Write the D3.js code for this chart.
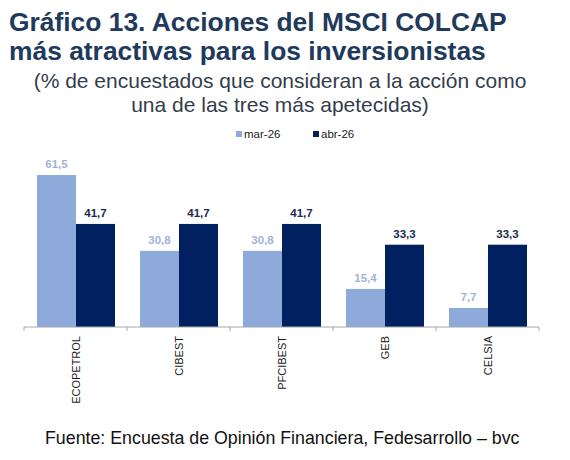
<!DOCTYPE html>
<html>
<head>
<meta charset="utf-8">
<script src="https://cdn.jsdelivr.net/npm/d3@7"></script>
<style>
  body { margin: 0; background: #fff; }
  svg { display: block; font-family: "Liberation Sans", Arial, sans-serif; }
</style>
</head>
<body>
<svg id="chart"></svg>
<script>
const width = 570
const height = 460

// data
const categories = ['ECOPETROL', 'CIBEST', 'PFCIBEST', 'GEB', 'CELSIA']
const seriesNames = ['mar-26', 'abr-26']
const mar26 = [61.5, 30.8, 30.8, 15.4, 7.7]
const abr26 = [41.7, 41.7, 41.7, 33.3, 33.3]

const colors = ['#8eaadb', '#002060']
const labelColors = ['#9fb3da', '#1b2a4e']

const svg = d3.select('#chart').attr('width', width).attr('height', height)

// titles
const title = svg.append('g').attr('fill', '#213a5c').attr('font-weight', 'bold').attr('font-size', 26.4)
title.append('text').attr('x', 9).attr('y', 31).text('Gráfico 13. Acciones del MSCI COLCAP')
title.append('text').attr('x', 9).attr('y', 60).text('más atractivas para los inversionistas')

const sub = svg.append('g').attr('fill', '#333d4c').attr('font-size', 21).attr('text-anchor', 'middle')
sub.append('text').attr('x', 280).attr('y', 88).text('(% de encuestados que consideran a la acción como')
sub.append('text').attr('x', 280).attr('y', 112).text('una de las tres más apetecidas)')

// scales
const x = d3.scaleBand().domain(categories).range([24, 539])
const xSub = d3.scaleBand().domain(seriesNames).range([13, 91])
const y = d3.scaleLinear().domain([0, 70]).range([327, 154])

const rows = categories.map((c, i) => ({ cat: c, vals: [mar26[i], abr26[i]] }))

const groups = svg.append('g').selectAll('g')
  .data(rows)
  .enter().append('g')
  .attr('transform', d => `translate(${x(d.cat)},0)`)

groups.selectAll('rect')
  .data(d => d.vals.map((v, j) => ({ v, j })))
  .enter().append('rect')
  .attr('x', d => xSub(seriesNames[d.j]))
  .attr('width', xSub.bandwidth())
  .attr('y', d => y(d.v))
  .attr('height', d => y(0) - y(d.v))
  .attr('fill', d => colors[d.j])

groups.selectAll('text')
  .data(d => d.vals.map((v, j) => ({ v, j })))
  .enter().append('text')
  .attr('x', d => xSub(seriesNames[d.j]) + xSub.bandwidth() / 2)
  .attr('y', d => y(d.v) - 7)
  .attr('text-anchor', 'middle')
  .attr('font-size', 11.5)
  .attr('font-weight', 'bold')
  .attr('fill', d => labelColors[d.j])
  .text(d => d3.format('.1f')(d.v).replace('.', ','))

// x axis
const axis = svg.append('g').attr('transform', `translate(0,${y(0)})`)
axis.append('line').attr('x1', 24).attr('x2', 539).attr('stroke', '#a6a6a6')
axis.selectAll('.tk')
  .data(categories.map(c => x(c)).concat([539]))
  .enter().append('line')
  .attr('x1', d => d).attr('x2', d => d)
  .attr('y1', 0).attr('y2', 4)
  .attr('stroke', '#a6a6a6')

axis.selectAll('.cat')
  .data(categories)
  .enter().append('text')
  .attr('transform', d => `translate(${x(d) + x.bandwidth() / 2 + 4},9) rotate(-90)`)
  .attr('text-anchor', 'end')
  .attr('font-size', 11)
  .attr('fill', '#1a1a1a')
  .text(d => d)

// legend
const legend = svg.append('g').attr('font-size', 11.5).attr('fill', '#1a1a1a')
const legendX = [236, 313]
seriesNames.forEach((s, i) => {
  legend.append('rect').attr('x', legendX[i]).attr('y', 131).attr('width', 6).attr('height', 6).attr('fill', colors[i])
  legend.append('text').attr('x', legendX[i] + 8).attr('y', 137.5).text(s)
})

// source
svg.append('text')
  .attr('x', 45).attr('y', 444)
  .attr('font-size', 17.8)
  .attr('fill', '#111')
  .text('Fuente: Encuesta de Opinión Financiera, Fedesarrollo – bvc')
</script>
</body>
</html>
